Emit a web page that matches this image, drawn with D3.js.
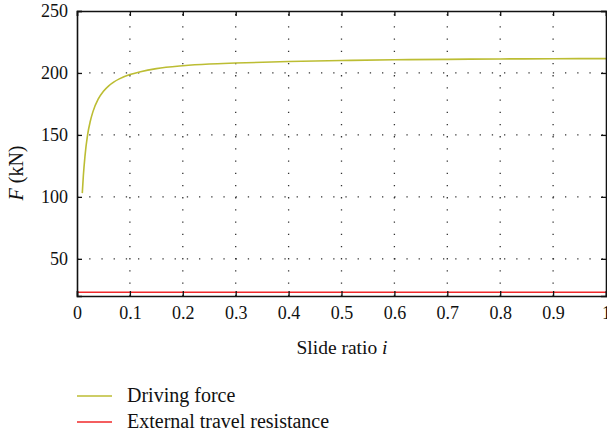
<!DOCTYPE html>
<meta charset="utf-8">
<head>
<style>
body { margin: 0; background: #fff; }
svg text { font-family: "Liberation Serif", "Times New Roman", Times, serif; fill: #111; }
.grid line { stroke: #333; stroke-width: 1.3; stroke-dasharray: 1.3,10.9; }
.tick text { font-size: 18px; }
</style>
<script src="https://d3js.org/d3.v7.min.js"></script>
</head>
<body>
<svg width="607" height="436"></svg>
<script>

// slide ratio and driving force
var slideRatio = [0.01, 0.012, 0.015, 0.02, 0.025, 0.03, 0.04, 0.05, 0.06, 0.07, 0.08, 0.1,
                  0.12, 0.15, 0.2, 0.25, 0.3, 0.4, 0.5, 0.6, 0.7, 0.8, 0.9, 1.0];
var drivingForce = [103, 117, 132.5, 150, 160.8, 168.6, 178.8, 185.2, 189.6, 192.8, 195.2, 198.7,
                    201, 203.5, 205.8, 207.2, 208, 209.2, 210, 210.6, 211, 211.3, 211.5, 211.6];
var resistance = 23;

var xTicks = [0, 0.1, 0.2, 0.3, 0.4, 0.5, 0.6, 0.7, 0.8, 0.9, 1];
var yTicks = [50, 100, 150, 200, 250];
var legendLabels = ["Driving force", "External travel resistance"];
var colors = ["#bcbd33", "#f0282a"];

var svg = d3.select("svg");
var margin = {left: 77, right: 1, top: 11, bottom: 140};
var width = 607 - margin.left - margin.right,
    height = 436 - margin.top - margin.bottom;

var x = d3.scaleLinear().domain([0, 1]).range([0, width]);
var y = d3.scaleLinear().domain([20, 250]).range([height, 0]);

var g = svg.append("g").attr("transform", "translate(" + margin.left + "," + margin.top + ")");

// dotted grid
var grid = g.append("g").attr("class", "grid");
grid.selectAll(".gx").data(xTicks.slice(1, -1)).enter().append("line")
    .attr("x1", d => x(d)).attr("x2", d => x(d))
    .attr("y1", height).attr("y2", 0);
grid.selectAll(".gy").data(yTicks.slice(0, -1)).enter().append("line")
    .attr("x1", 0).attr("x2", width)
    .attr("y1", d => y(d)).attr("y2", d => y(d));

// curves
var line = d3.line()
    .x(function(d) { return x(d[0]); })
    .y(function(d) { return y(d[1]); })
    .curve(d3.curveMonotoneX);

g.append("path")
    .datum(d3.zip(slideRatio, drivingForce))
    .attr("fill", "none")
    .attr("stroke", colors[0])
    .attr("stroke-width", 1.6)
    .attr("d", line);

g.append("path")
    .datum([[0, resistance], [1, resistance]])
    .attr("fill", "none")
    .attr("stroke", colors[1])
    .attr("stroke-width", 1.6)
    .attr("d", line);

// axes, ticks pointing inward on all four sides
g.append("g").attr("transform", "translate(0," + height + ")")
    .call(d3.axisBottom(x).tickValues(xTicks).tickSize(-5).tickPadding(10).tickFormat(d3.format("")));
g.append("g")
    .call(d3.axisLeft(y).tickValues(yTicks).tickSize(-5).tickPadding(9));
g.append("g").call(d3.axisTop(x).tickValues(xTicks).tickSize(-5).tickFormat(""));
g.append("g").attr("transform", "translate(" + width + ",0)")
    .call(d3.axisRight(y).tickValues(yTicks).tickSize(-5).tickFormat(""));

g.selectAll(".domain").attr("stroke", "#111").attr("stroke-width", 1.6);
g.selectAll(".tick line").attr("stroke", "#111").attr("stroke-width", 1.3);

// axis titles
var xl = svg.append("text")
    .attr("x", 342).attr("y", 354)
    .attr("text-anchor", "middle")
    .style("font-size", "19.5px");
xl.append("tspan").text("Slide ratio ");
xl.append("tspan").style("font-style", "italic").text("i");

var yl = svg.append("text")
    .attr("transform", "translate(23,173) rotate(-90)")
    .attr("text-anchor", "middle")
    .style("font-size", "20px");
yl.append("tspan").style("font-style", "italic").text("F");
yl.append("tspan").text(" (kN)");

// legend
var legend = svg.selectAll(".legend").data(legendLabels).enter().append("g")
    .attr("transform", function(d, i) { return "translate(77," + (396 + i * 26) + ")"; });
legend.append("line")
    .attr("x1", 0).attr("x2", 35)
    .attr("stroke", function(d, i) { return colors[i]; })
    .attr("stroke-width", 1.4);
legend.append("text")
    .attr("x", 50).attr("y", 6)
    .style("font-size", "20px")
    .text(function(d) { return d; });

</script>
</body>
